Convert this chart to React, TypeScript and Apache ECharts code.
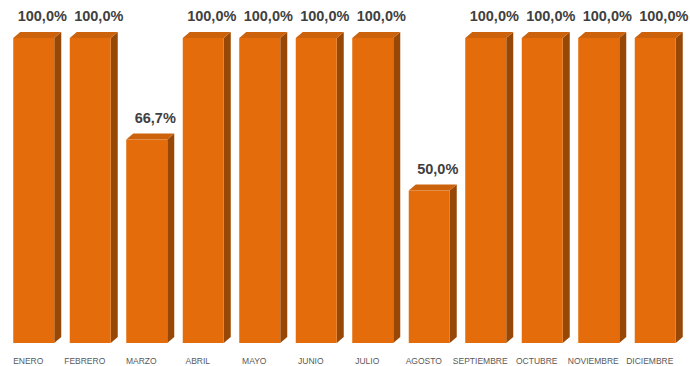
import React, { useEffect, useRef } from "react";
import * as echarts from "echarts";

const months = ["ENERO", "FEBRERO", "MARZO", "ABRIL", "MAYO", "JUNIO", "JULIO", "AGOSTO", "SEPTIEMBRE", "OCTUBRE", "NOVIEMBRE", "DICIEMBRE"];
const percentages = [100, 100, 66.7, 100, 100, 100, 100, 50, 100, 100, 100, 100];

const FRONT = "#E46C0A";
const SIDE = "#974806";
const TOP = "#CC620B";

export default function App() {
  const ref = useRef<HTMLDivElement>(null);
  useEffect(() => {
    if (!ref.current) return;
    const chart = echarts.init(ref.current, null, { renderer: "svg" });
    chart.setOption({
      animation: false,
      backgroundColor: "#ffffff",
      grid: { left: -1, right: 12, top: 38, bottom: 23, containLabel: false },
      xAxis: {
        type: "category",
        data: months,
        axisLine: { show: false },
        axisTick: { show: false },
        axisLabel: {
          interval: 0,
          margin: 13,
          fontSize: 8.5,
          color: "#595959",
          fontFamily: "Liberation Sans",
        },
      },
      yAxis: {
        type: "value",
        min: 0,
        max: 100,
        show: false,
        splitLine: { show: false },
      },
      series: [
        {
          type: "custom",
          data: percentages.map((v, i) => [i, v]),
          renderItem: (params: any, api: any) => {
            const idx = api.value(0);
            const val = api.value(1);
            const p = api.coord([idx, val]);
            const b = api.coord([idx, 0]);
            const cx = p[0];
            const top = p[1];
            const bottom = b[1];
            const l = cx - 15;
            const w = 41;
            const dx = 7;
            const dy = 6;
            return {
              type: "group",
              children: [
                {
                  type: "polygon",
                  shape: { points: [[l + w, top], [l + w + dx, top - dy], [l + w + dx, bottom - dy], [l + w, bottom]] },
                  style: { fill: SIDE },
                },
                {
                  type: "polygon",
                  shape: { points: [[l, top], [l + dx, top - dy], [l + w + dx, top - dy], [l + w, top]] },
                  style: { fill: TOP },
                },
                {
                  type: "rect",
                  shape: { x: l, y: top, width: w, height: bottom - top },
                  style: { fill: FRONT },
                },
                {
                  type: "text",
                  style: {
                    text: val.toFixed(1).replace(".", ",") + "%",
                    x: cx + 14,
                    y: top - 22,
                    align: "center",
                    verticalAlign: "middle",
                    fill: "#404040",
                    fontSize: 14.5,
                    fontWeight: "bold",
                    fontFamily: "Liberation Sans",
                  },
                },
              ],
            };
          },
        },
      ],
    });
    return () => chart.dispose();
  }, []);
  return (
    <div
      ref={ref}
      style={{ position: "fixed", left: 0, top: 0, width: 690, height: 366 }}
    />
  );
}
